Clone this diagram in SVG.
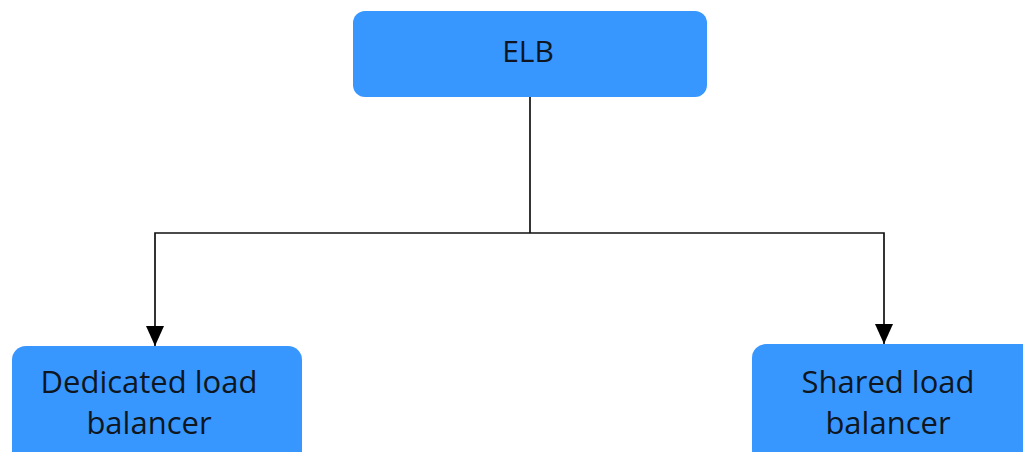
<svg xmlns="http://www.w3.org/2000/svg" width="1023" height="452" viewBox="0 0 1023 452">
  <style>
    .box { fill: #3797FF; }
    .lbl { font-family: "Open Sans", "Noto Sans", sans-serif; font-size: 31px; fill: #0f1620; text-anchor: middle; }
    .top { font-size: 30px; }
    .wire { fill: none; stroke: #111; stroke-width: 1.7; }
  </style>
  <defs>
    <marker id="arrowBig" viewBox="0 0 20 18" refX="20" refY="9" markerWidth="20" markerHeight="18" markerUnits="userSpaceOnUse" orient="auto">
      <path d="M0,0 L20,9 L0,18 Z" fill="#000"/>
    </marker>
  </defs>

  <g id="connectors">
    <path class="wire" d="M530,97 V233"/>
    <path class="wire" d="M530,233 H155 V346" marker-end="url(#arrowBig)"/>
    <path class="wire" d="M530,233 H884 V344" marker-end="url(#arrowBig)"/>
  </g>

  <g id="node-elb">
    <rect class="box" x="353" y="11" width="354" height="86" rx="12"/>
    <text class="lbl top" x="528" y="62">ELB</text>
  </g>

  <g id="node-dedicated">
    <rect class="box" x="12" y="346" width="290" height="120" rx="14"/>
    <text class="lbl" x="149" y="393">Dedicated load</text>
    <text class="lbl" x="149" y="434">balancer</text>
  </g>

  <g id="node-shared">
    <rect class="box" x="752" y="344" width="290" height="120" rx="14"/>
    <text class="lbl" x="888" y="393">Shared load</text>
    <text class="lbl" x="888" y="434">balancer</text>
  </g>
</svg>
